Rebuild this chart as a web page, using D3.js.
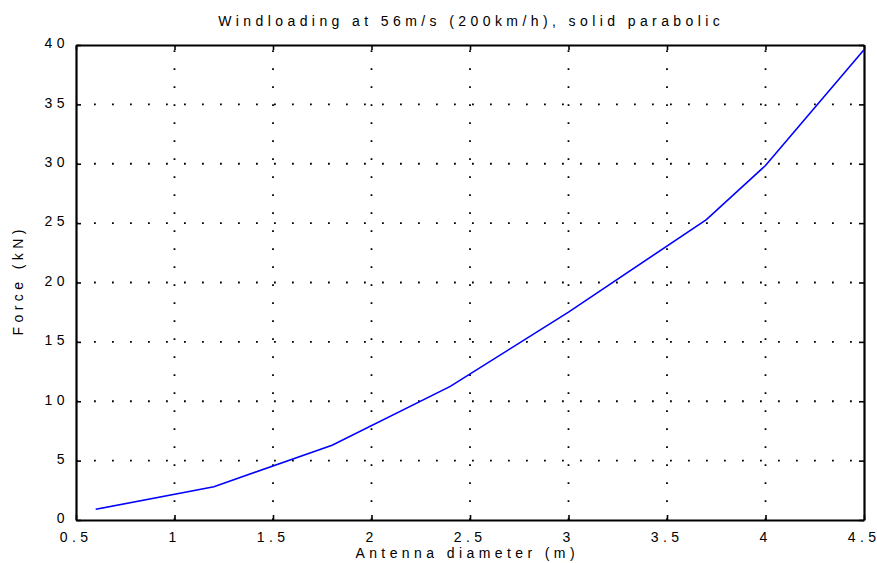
<!DOCTYPE html>
<html><head><meta charset="utf-8">
<script src="https://cdn.jsdelivr.net/npm/d3@7"></script>
<style>
body{margin:0;background:#fff;}
text{font-family:"Liberation Sans",Arial,sans-serif;fill:#000;}
</style></head>
<body><svg id="c" width="877" height="563"></svg>
<script>
const diameters = [0.6, 1.2, 1.8, 2.4, 3.0, 3.7, 4.0, 4.5];
const forces = [0.9, 2.8, 6.3, 11.25, 17.5, 25.3, 29.85, 39.6];
const xTicks = [0.5, 1, 1.5, 2, 2.5, 3, 3.5, 4, 4.5];
const yTicks = [0, 5, 10, 15, 20, 25, 30, 35, 40];
const titleText = "Windloading at 56m/s (200km/h), solid parabolic";
const xLabel = "Antenna diameter (m)";
const yLabel = "Force (kN)";

const L = 76, R = 864, T = 45, B = 520;
const svg = d3.select("#c");
const x = d3.scaleLinear().domain([0.5, 4.5]).range([L, R]);
const y = d3.scaleLinear().domain([0, 40]).range([B, T]);
const FS = "14px", LS = 4.4;

// spacing via per-glyph dx (no trailing gap)
function spaced(sel) {
  sel.each(function () {
    const t = d3.select(this).text();
    const arr = Array.from(t).map((c, i) => (i === 0 ? 0 : LS));
    d3.select(this).attr("dx", arr.join(" "));
  });
  return sel;
}

// grid
const g = svg.append("g");
g.selectAll(".vg").data(xTicks.slice(1, -1)).join("line")
  .attr("x1", d => x(d)).attr("x2", d => x(d)).attr("y1", B).attr("y2", T)
  .attr("stroke", "#000").attr("stroke-width", 1.8).attr("stroke-dasharray", "1.8,16.2");
g.selectAll(".hg").data(yTicks.slice(1, -1)).join("line")
  .attr("x1", L).attr("x2", R).attr("y1", d => y(d)).attr("y2", d => y(d))
  .attr("stroke", "#000").attr("stroke-width", 1.8).attr("stroke-dasharray", "1.8,16.2");

// axes with inward ticks
const fmt = d => String(d);
const xa = svg.append("g").attr("transform", `translate(0,${B})`)
  .call(d3.axisBottom(x).tickValues(xTicks).tickSizeInner(-5).tickSizeOuter(0).tickPadding(12).tickFormat(fmt));
const xt = svg.append("g").attr("transform", `translate(0,${T})`)
  .call(d3.axisTop(x).tickValues(xTicks).tickSizeInner(-5).tickSizeOuter(0).tickFormat(""));
const ya = svg.append("g").attr("transform", `translate(${L},0)`)
  .call(d3.axisLeft(y).tickValues(yTicks).tickSizeInner(-5).tickSizeOuter(0).tickPadding(11.5).tickFormat(fmt));
const yr = svg.append("g").attr("transform", `translate(${R},0)`)
  .call(d3.axisRight(y).tickValues(yTicks).tickSizeInner(-5).tickSizeOuter(0).tickFormat(""));
[xa, xt, ya, yr].forEach(a => {
  a.select(".domain").attr("stroke", "#000").attr("stroke-width", 2.2);
  a.selectAll(".tick line").attr("stroke", "#000").attr("stroke-width", 1.6);
  a.selectAll("text").style("font-family", '"Liberation Sans",Arial,sans-serif')
    .style("font-size", FS).attr("fill", "#000");
});
spaced(xa.selectAll("text")).attr("dy", "0.71em").attr("x", -2.5);
spaced(ya.selectAll("text")).attr("dy", "0.2em");

// line
svg.append("path").datum(diameters.map((d, i) => [d, forces[i]]))
  .attr("d", d3.line().x(d => x(d[0])).y(d => y(d[1])))
  .attr("fill", "none").attr("stroke", "#0000ff").attr("stroke-width", 1.6);

// labels
spaced(svg.append("text").attr("x", 469).attr("y", 25.5).attr("text-anchor", "middle")
  .style("font-size", FS).text(titleText));
spaced(svg.append("text").attr("x", 465).attr("y", 558).attr("text-anchor", "middle")
  .style("font-size", FS).text(xLabel));
spaced(svg.append("text").attr("transform", `translate(23,${(T + B) / 2}) rotate(-90)`).attr("text-anchor", "middle")
  .style("font-size", FS).text(yLabel));
</script></body></html>
